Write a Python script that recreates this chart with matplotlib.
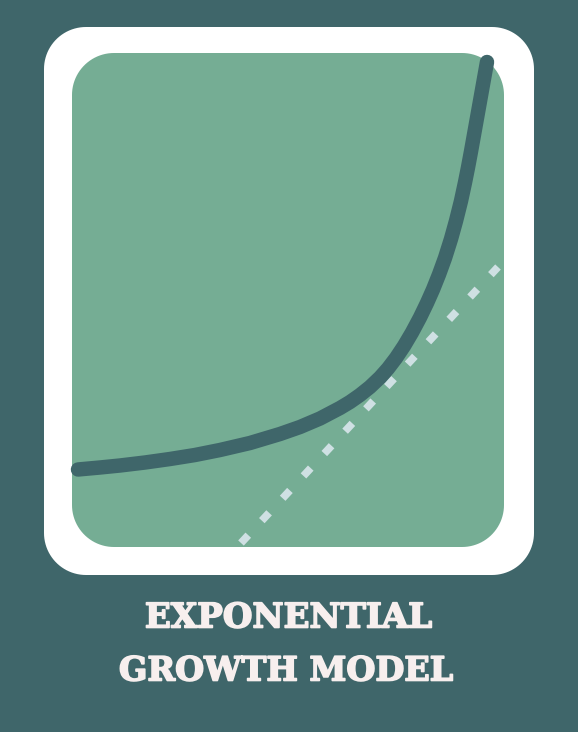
import numpy as np
import matplotlib.pyplot as plt
import matplotlib.patheffects as pe
from matplotlib.patches import Polygon

# everything, in pixels (y down)
curve_x = [78, 100, 120, 145, 170, 195, 220, 250, 280, 300, 320, 340, 350, 360, 370, 380, 388, 396,
           404, 412, 420, 427, 433, 439, 445, 451, 456, 461, 465, 468, 471, 477, 482, 487]
curve_y = [469.5, 467.5, 465.5, 462.5, 459, 455, 450, 443, 434, 427, 418.5, 408, 402, 395, 387,
           377.5, 368.5, 358, 346, 332.5, 317.5, 303, 289.5, 274.5, 258, 239, 221, 201, 182.5,
           167.5, 151.5, 118, 90, 62]
tangent_x = [241, 498]
tangent_y = [543, 267]
title_lines = ["EXPONENTIAL", "GROWTH MODEL"]

BG = "#3f666a"
GREEN = "#75ad94"
TEXT = "#f7efee"
DASH = "#cfe0e3"


def rounded(ax, x0, y0, x1, y1, radius, color):
    """
        Rounded box with true circular corners
    """
    corners = [(x1 - radius, y1 - radius, 0), (x0 + radius, y1 - radius, 90),
               (x0 + radius, y0 + radius, 180), (x1 - radius, y0 + radius, 270)]
    pts = []
    for cx, cy, start in corners:
        t = np.radians(np.linspace(start, start + 90, 24))
        pts.append(np.column_stack([cx + radius * np.cos(t), cy + radius * np.sin(t)]))
    box = Polygon(np.vstack(pts), closed=True, fc=color, ec="none")
    ax.add_patch(box)
    return box


fig = plt.figure(figsize=(5.78, 7.32), dpi=100, facecolor=BG)
ax = fig.add_axes([0, 0, 1, 1])
ax.set_xlim(0, 578)
ax.set_ylim(732, 0)
ax.axis("off")

rounded(ax, 44, 27, 534, 575, 42, "white")
rounded(ax, 72, 53, 504, 547, 42, GREEN)

ax.plot(tangent_x, tangent_y, color=DASH, lw=5.5, linestyle=(0, (1.4, 2.6)), solid_capstyle="butt")
ax.plot(curve_x, curve_y, color=BG, lw=10.4, solid_capstyle="round", solid_joinstyle="round")

# no stencil face here, so a bold serif thickened with a stroke
thick = [pe.withStroke(linewidth=1.2, foreground=TEXT)]
ax.text(288.5, 618, title_lines[0], color=TEXT, fontsize=24.5, family="DejaVu Serif",
        fontweight="bold", ha="center", va="center", path_effects=thick)
ax.text(286.5, 671, title_lines[1], color=TEXT, fontsize=24, family="DejaVu Serif",
        fontweight="bold", ha="center", va="center", path_effects=thick)

fig.savefig("out.png", dpi=100, facecolor=BG)
